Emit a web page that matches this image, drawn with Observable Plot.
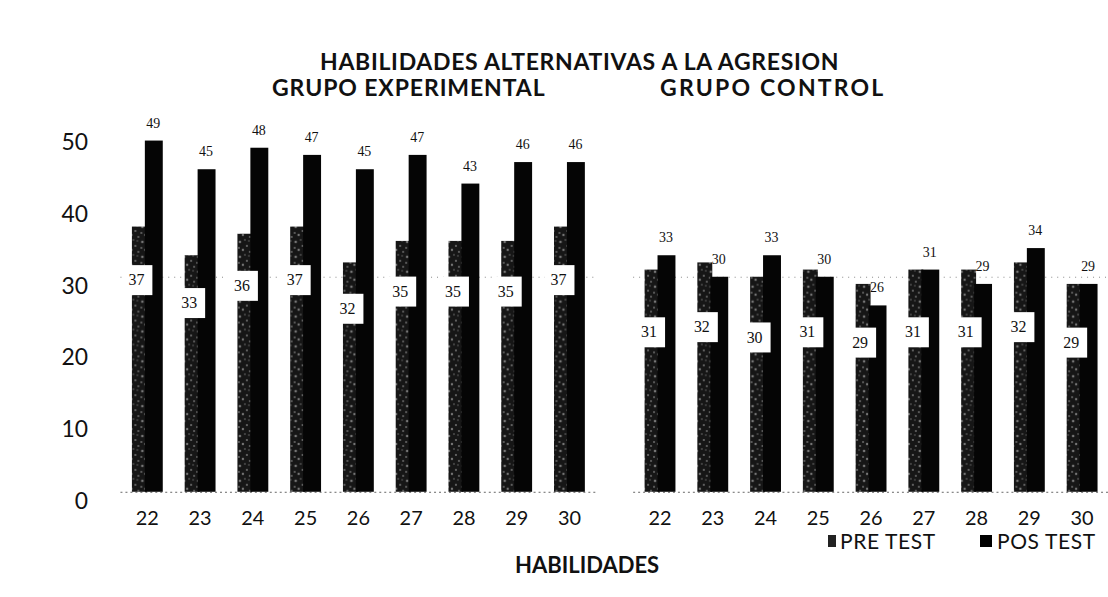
<!DOCTYPE html>
<html>
<head>
<meta charset="utf-8">
<script src="https://cdn.jsdelivr.net/npm/d3@7"></script>
<script src="https://cdn.jsdelivr.net/npm/@observablehq/plot@0.6"></script>
<style>
  html, body { margin: 0; padding: 0; background: #fff; overflow: hidden; }
  #wrap { position: relative; width: 1108px; height: 597px; overflow: hidden; }
  .t { position: absolute; font-family: Lato, "Open Sans", sans-serif; font-weight: 700; color: #111; white-space: nowrap; line-height: 1; }
  .leg { position: absolute; font-family: Lato, "Open Sans", sans-serif; font-size: 21px; color: #111; white-space: nowrap; line-height: 1; display: flex; align-items: center; letter-spacing: 0.6px; }
  .sw { display: inline-block; margin-right: 4px; }
</style>
</head>
<body>
<div id="wrap">
  <div class="t" style="left:320px; top:50px; font-size:23px; letter-spacing:0.7px;">HABILIDADES ALTERNATIVAS A LA AGRESION</div>
  <div class="t" style="left:272px; top:76px; font-size:23px; letter-spacing:0.9px;">GRUPO EXPERIMENTAL</div>
  <div class="t" style="left:660px; top:76px; font-size:23px; letter-spacing:2.2px;">GRUPO CONTROL</div>
  <div class="t" style="left:515px; top:554px; font-size:22px;">HABILIDADES</div>
  <div class="leg" style="left:828px; top:530px;"><span class="sw" style="width:8px;height:12px;background:#222;"></span>PRE TEST</div>
  <div class="leg" style="left:980px; top:530px;"><span class="sw" style="width:12px;height:12px;background:#000;margin-right:5px;"></span>POS TEST</div>
</div>
<script>
const groups = ["GRUPO EXPERIMENTAL", "GRUPO CONTROL"];
const habilidades = ["22", "23", "24", "25", "26", "27", "28", "29", "30"];
const preExperimental = [37, 33, 36, 37, 32, 35, 35, 35, 37];
const posExperimental = [49, 45, 48, 47, 45, 47, 43, 46, 46];
const preControl = [31, 32, 30, 31, 29, 31, 31, 32, 29];
const posControl = [33, 30, 33, 30, 26, 31, 29, 34, 29];
const yTicks = [0, 10, 20, 30, 40, 50];
const gridLines = [30];

const data = [];
habilidades.forEach((h, i) => data.push({group: groups[0], hab: h, pre: preExperimental[i], pos: posExperimental[i]}));
habilidades.forEach((h, i) => data.push({group: groups[1], hab: h, pre: preControl[i], pos: posControl[i]}));

const chart = Plot.plot({
  width: 1113,
  height: 597,
  marginTop: 134,
  marginBottom: 103,
  marginLeft: 120,
  marginRight: 0,
  style: {fontFamily: "Lato, 'Open Sans', sans-serif", fontSize: "20px", color: "#111", background: "transparent"},
  facet: {data, x: "group"},
  fx: {domain: groups, axis: null, paddingInner: 0.074, paddingOuter: 0},
  x: {domain: habilidades, padding: 0, tickSize: 0, tickPadding: 19, label: null},
  y: {domain: [0, 50], label: null, axis: null},
  marks: [
    Plot.axisY({ticks: yTicks, tickSize: 0, tickPadding: 33, dy: 9, fontSize: 23, label: null}),
    Plot.ruleY(gridLines, {stroke: "#888", strokeDasharray: "1,5"}),
    Plot.ruleY([0], {stroke: "#666", strokeDasharray: "2,3"}),
    Plot.barY(data, {x: "hab", y: "pre", fill: "url(#prePattern)", insetLeft: 11.5, insetRight: 26.5}),
    Plot.barY(data, {x: "hab", y: "pos", fill: "#050505", insetLeft: 24.5, insetRight: 10.5}),
    Plot.dot(data, {x: "hab", y: d => d.pre * (d.group === groups[0] ? 0.8 : 0.72), symbol: "square", r: 17, fill: "white", dx: -10}),
    Plot.text(data, {x: "hab", y: d => d.pre * (d.group === groups[0] ? 0.8 : 0.72), text: "pre", dx: -11, fontFamily: "'Liberation Serif', serif", fontSize: 16, fill: "#111"}),
    Plot.text(data, {x: "hab", y: "pos", text: "pos", dx: 6, dy: -18, fontFamily: "'Liberation Serif', serif", fontSize: 14, fill: "#111"})
  ]
});

// pattern for the PRE TEST bars (dark speckled texture)
const svg = d3.select(chart.tagName.toLowerCase() === "svg" ? chart : chart.querySelector("svg"));
const defs = svg.insert("defs", ":first-child");
const pat = defs.append("pattern").attr("id", "prePattern").attr("patternUnits", "userSpaceOnUse").attr("width", 14).attr("height", 15);
pat.append("rect").attr("width", 14).attr("height", 15).attr("fill", "#161616");
[[2,3,1.3],[9,7,1.0],[5,11,1.2],[12,13,0.9],[7,1,0.8],[1,9,0.9],[11,2,0.7]].forEach(([cx, cy, r]) =>
  pat.append("circle").attr("cx", cx).attr("cy", cy).attr("r", r).attr("fill", "#777"));

chart.style.position = "absolute";
chart.style.left = "0px";
chart.style.top = "0px";
document.getElementById("wrap").prepend(chart);
</script>
</body>
</html>
